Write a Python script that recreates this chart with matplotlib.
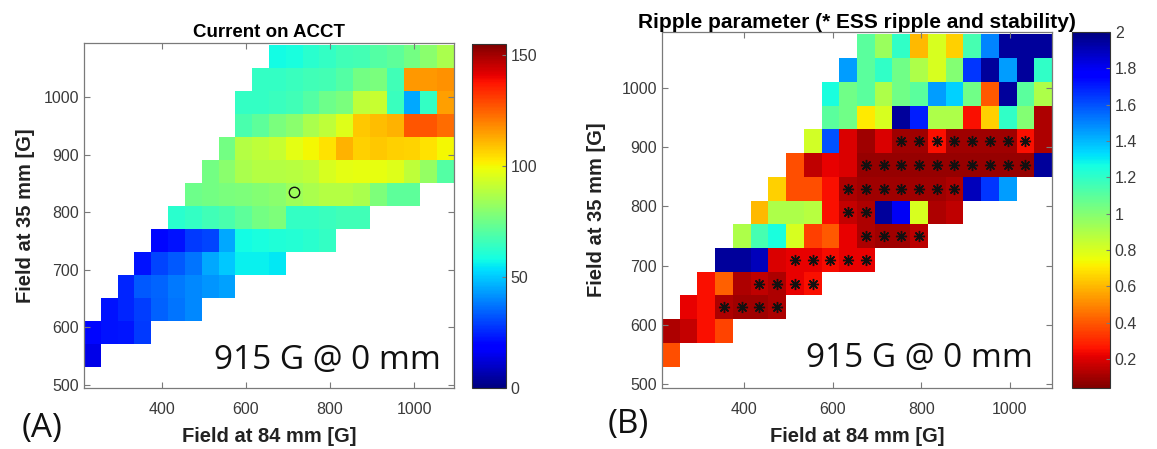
import numpy as np
import matplotlib
matplotlib.use("Agg")
import matplotlib.pyplot as plt

# ---------------- data ----------------
x_grid = [235, 275, 315, 355, 395, 435, 475, 515, 555, 595, 635,
          675, 715, 755, 795, 835, 875, 915, 955, 995, 1035, 1075]
y_grid = [550, 590, 630, 670, 710, 750, 790, 830, 870, 910, 950, 990, 1030, 1070]

# first x of each row (rows follow y_grid)
row_start = [235, 235, 275, 315, 355, 395, 435, 475, 515, 555, 595, 595, 635, 675]

current_rows = [
    [14],
    [20, 22, 23, 28],
    [22, 25, 29, 34, 37, 40],
    [25, 33, 35, 38, 40, 42, 44],
    [22, 30, 33, 37, 45, 50, 56, 56, 55],
    [20, 22, 28, 30, 45, 58, 59, 60, 61, 62, 64],
    [62, 64, 66, 68, 72, 76, 78, 64, 64, 65, 66, 66],
    [75, 76, 77, 78, 79, 80, 84, 86, 88, 88, 86, 78, 72, 72],
    [76, 80, 86, 88, 88, 89, 90, 95, 97, 98, 98, 96, 90, 82, 70],
    [76, 88, 90, 92, 97, 100, 104, 112, 107, 108, 107, 106, 104, 100],
    [68, 72, 77, 80, 86, 90, 96, 108, 110, 112, 127, 127, 123],
    [64, 64, 65, 66, 70, 75, 77, 90, 92, 65, 45, 64, 115],
    [64, 64, 65, 66, 67, 70, 76, 77, 66, 116, 116, 117],
    [58, 59, 62, 64, 66, 67, 70, 72, 76, 80, 86],
]

ripple_rows = [
    [0.38],
    [0.12, 0.16, 0.25, 0.36],
    [0.22, 0.25, 0.12, 0.10, 0.10, 0.12],
    [0.25, 0.42, 0.12, 0.15, 0.12, 0.22, 0.25],
    [1.95, 1.95, 1.90, 0.20, 0.22, 0.22, 0.24, 0.22, 0.22],
    [0.90, 1.15, 1.25, 0.80, 0.35, 0.40, 0.22, 0.12, 0.10, 0.10, 0.14],
    [0.60, 0.90, 0.90, 0.88, 0.25, 0.16, 0.12, 1.95, 1.80, 0.80, 0.12, 0.15],
    [0.65, 0.38, 0.38, 0.25, 0.12, 0.10, 0.10, 0.10, 0.10, 0.10, 0.12, 1.90, 1.65, 1.45],
    [0.38, 0.15, 0.22, 0.20, 0.08, 0.08, 0.08, 0.08, 0.08, 0.08, 0.08, 0.08, 0.08, 0.08, 1.95],
    [0.82, 1.60, 0.20, 0.10, 0.20, 0.10, 0.10, 0.25, 0.10, 0.10, 0.10, 0.10, 0.25, 0.12],
    [1.10, 1.05, 0.70, 0.80, 1.95, 1.70, 0.90, 0.90, 0.25, 0.65, 1.20, 1.00, 0.12],
    [1.25, 1.05, 1.10, 0.90, 1.05, 1.10, 1.45, 1.35, 1.05, 0.40, 1.95, 1.10, 0.90],
    [1.45, 1.10, 1.20, 1.05, 0.90, 0.80, 1.00, 1.65, 1.95, 1.45, 1.95, 1.20],
    [1.10, 0.95, 1.20, 0.60, 0.80, 0.65, 1.15, 1.50, 1.95, 1.95, 1.95],
]

# ESS ripple and stability markers: row y, first x, number of cells
star_row_y = [630, 670, 710, 750, 790, 830, 870, 910]
star_first_x = [355, 435, 515, 675, 635, 635, 675, 755]
star_count = [4, 4, 5, 4, 2, 7, 10, 8]

# operating point marker on panel A
op_x = [715]
op_y = [835]

x_ticks = [400, 600, 800, 1000]
y_ticks = [500, 600, 700, 800, 900, 1000]
cbar_a_ticks = [0, 50, 100, 150]
cbar_b_ticks = [0.2, 0.4, 0.6, 0.8, 1.0, 1.2, 1.4, 1.6, 1.8, 2.0]
cbar_b_labels = ["0.2", "0.4", "0.6", "0.8", "1", "1.2", "1.4", "1.6", "1.8", "2"]


def build_grid(rows):
    Z = np.full((len(y_grid), len(x_grid)), np.nan)
    for i, vals in enumerate(rows):
        s = x_grid.index(row_start[i])
        Z[i, s:s + len(vals)] = vals
    return np.ma.masked_invalid(Z)


# ---------------- figure ----------------
W, H = 1157, 449
fig = plt.figure(figsize=(W / 100, H / 100), dpi=100)


def fr(l, t, r, b):
    return [l / W, 1 - b / H, (r - l) / W, (b - t) / H]


tick_color = "#3a3a3a"
spine_color = "#7a7a7a"
big_font = "Open Sans"


def style_axes(ax, ylabelpad):
    ax.set_xlim(215, 1095)
    ax.set_ylim(494, 1094)
    ax.set_xticks(x_ticks)
    ax.set_yticks(y_ticks)
    ax.tick_params(direction="in", top=True, right=True, length=4, width=0.8,
                   colors=spine_color, labelcolor=tick_color, labelsize=11.5)
    ax.tick_params(axis="x", pad=10)
    for lab in ax.get_xticklabels() + ax.get_yticklabels():
        lab.set_fontfamily("Liberation Sans")
    for sp in ax.spines.values():
        sp.set_color(spine_color)
        sp.set_linewidth(0.9)
    ax.set_xlabel("Field at 84 mm [G]", fontsize=14.5, fontweight="bold",
                  family="Liberation Sans", color="#222222", labelpad=7)
    ax.set_ylabel("Field at 35 mm [G]", fontsize=14.5, fontweight="bold",
                  family="Liberation Sans", color="#222222", labelpad=ylabelpad)


def style_cbar(cax, cb):
    cb.outline.set_edgecolor("#333333")
    cb.outline.set_linewidth(0.8)
    cax.tick_params(direction="in", length=3, width=0.8, colors=spine_color,
                    labelcolor=tick_color, labelsize=11.5)
    for lab in cax.get_yticklabels():
        lab.set_fontfamily("Liberation Sans")


# Panel A
axA = fig.add_axes(fr(84, 43, 454, 388))
ZA = build_grid(current_rows)
mA = axA.pcolormesh(x_grid, y_grid, ZA, shading="nearest", cmap="jet",
                    vmin=0, vmax=155)
axA.plot(op_x, op_y, "o", mfc="none", mec="#111111", ms=7.5, mew=1.0)
style_axes(axA, 6)
axA.set_title("Current on ACCT", fontsize=13.5, fontweight="bold",
              family="Liberation Sans", pad=4)
axA.text(0.965, 0.055, "915 G @ 0 mm", transform=axA.transAxes, ha="right",
         va="baseline", fontsize=24, family=big_font, color="#111111")

caxA = fig.add_axes(fr(472, 44, 506, 388))
cbA = fig.colorbar(mA, cax=caxA, ticks=cbar_a_ticks)
style_cbar(caxA, cbA)

# Panel B
axB = fig.add_axes(fr(662, 32, 1052, 388))
ZB = build_grid(ripple_rows)
mB = axB.pcolormesh(x_grid, y_grid, ZB, shading="nearest", cmap="jet_r",
                    vmin=0.04, vmax=2.0)
sx, sy = [], []
for yv, x0, n in zip(star_row_y, star_first_x, star_count):
    s = x_grid.index(x0)
    sx.extend(x_grid[s:s + n])
    sy.extend([yv] * n)
axB.plot(sx, sy, linestyle="none", marker=(8, 2, 0), color="#111111",
         ms=8, mew=1.0)
style_axes(axB, 11)
axB.set_title("Ripple parameter (* ESS ripple and stability)", fontsize=15,
              fontweight="bold", family="Liberation Sans", pad=3)
axB.text(0.95, 0.06, "915 G @ 0 mm", transform=axB.transAxes, ha="right",
         va="baseline", fontsize=24, family=big_font, color="#111111")

caxB = fig.add_axes(fr(1072, 32, 1110, 388))
cbB = fig.colorbar(mB, cax=caxB, ticks=cbar_b_ticks)
cbB.ax.set_yticklabels(cbar_b_labels)
style_cbar(caxB, cbB)

# panel letters
fig.text(42 / W, 1 - 428 / H, "(A)", ha="center", va="center", fontsize=24,
         family=big_font, color="#111111")
fig.text(628 / W, 1 - 425 / H, "(B)", ha="center", va="center", fontsize=24,
         family=big_font, color="#111111")

fig.savefig("out.png", dpi=100, facecolor="white")
